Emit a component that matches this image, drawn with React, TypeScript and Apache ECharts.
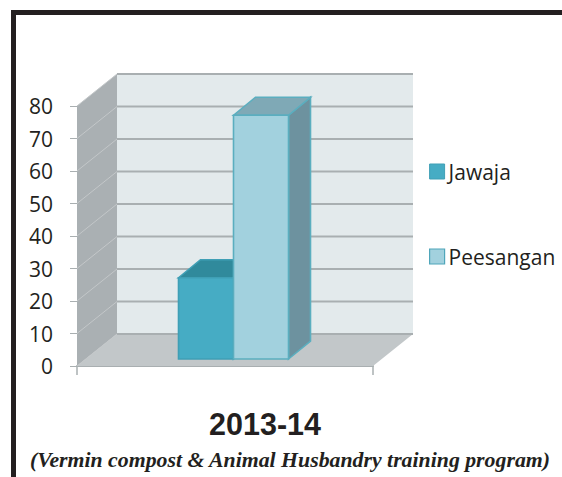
import React, { useEffect, useRef } from "react";
import * as echarts from "echarts";

const categories = ["2013-14"];
const jawajaValues = [25];
const peesanganValues = [75];
const gridValues = [0, 10, 20, 30, 40, 50, 60, 70, 80];
const chartTitle = "2013-14";
const chartSubtitle = "(Vermin compost & Animal Husbandry training program)";

const DEPTH_X = 40;
const DEPTH_Y = 32;
const BAR_W = 55;
const BAR_SHIFT_X = 8.5;
const BAR_SHIFT_Y = 7;
const BAR_DX = 22;
const BAR_DY = 18;

const wallItem = (params: any, api: any) => {
  const cs = params.coordSys;
  const x0 = cs.x, x1 = cs.x + cs.width, yTop = cs.y, yBot = cs.y + cs.height;
  const poly = (points: number[][], fill: string) => ({
    type: "polygon", shape: { points }, style: { fill }, silent: true,
  });
  return {
    type: "group",
    children: [
      poly([[x0 + DEPTH_X, yTop - DEPTH_Y], [x1 + DEPTH_X, yTop - DEPTH_Y], [x1 + DEPTH_X, yBot - DEPTH_Y], [x0 + DEPTH_X, yBot - DEPTH_Y]], "#e3eaec"),
      poly([[x0, yTop], [x0 + DEPTH_X, yTop - DEPTH_Y], [x0 + DEPTH_X, yBot - DEPTH_Y], [x0, yBot]], "#aab0b3"),
      poly([[x0, yBot], [x0 + DEPTH_X, yBot - DEPTH_Y], [x1 + DEPTH_X, yBot - DEPTH_Y], [x1, yBot]], "#c2c7c9"),
    ],
  };
};

const gridLineItem = (params: any, api: any) => {
  const cs = params.coordSys;
  const y = api.coord([0, api.value(0)])[1];
  const x0 = cs.x, x1 = cs.x + cs.width;
  const back = y - DEPTH_Y;
  return {
    type: "group",
    children: [
      { type: "line", shape: { x1: x0, y1: y, x2: x0 + DEPTH_X, y2: back }, style: { stroke: "#c3c7c9", lineWidth: 1 } },
      { type: "line", shape: { x1: x0 + DEPTH_X, y1: back, x2: x1 + DEPTH_X, y2: back }, style: { stroke: "#a9afb1", lineWidth: 2 } },
    ],
  };
};

const barItem = (offset: number, c: { front: string; top: string; side: string; edge: string }) => (params: any, api: any) => {
  const bottom = api.coord([0, 0]);
  const top = api.coord([0, api.value(1)]);
  const xL = bottom[0] + BAR_SHIFT_X + offset * BAR_W;
  const xR = xL + BAR_W;
  const yB = bottom[1] - BAR_SHIFT_Y;
  const yT = top[1] - BAR_SHIFT_Y;
  const stroke = { stroke: c.edge, lineWidth: 1.6 };
  return {
    type: "group",
    children: [
      { type: "polygon", shape: { points: [[xR, yB], [xR + BAR_DX, yB - BAR_DY], [xR + BAR_DX, yT - BAR_DY], [xR, yT]] }, style: { fill: c.side, ...stroke } },
      { type: "polygon", shape: { points: [[xL, yT], [xL + BAR_DX, yT - BAR_DY], [xR + BAR_DX, yT - BAR_DY], [xR, yT]] }, style: { fill: c.top, ...stroke } },
      { type: "rect", shape: { x: xL, y: yT, width: BAR_W, height: yB - yT }, style: { fill: c.front, ...stroke } },
    ],
  };
};

export default function App() {
  const ref = useRef<HTMLDivElement>(null);
  useEffect(() => {
    document.body.style.margin = "0";
    const chart = echarts.init(ref.current!, undefined, { renderer: "svg" });
    chart.setOption({
      animation: false,
      backgroundColor: "#ffffff",
      grid: { left: 77, right: 189, top: 106, bottom: 111 },
      xAxis: {
        type: "category",
        data: categories,
        axisLine: { lineStyle: { color: "#a9afb1", width: 2 } },
        axisTick: { show: true, length: 9, lineStyle: { color: "#a9afb1", width: 1.5 } },
        axisLabel: { show: false },
        splitLine: { show: false },
      },
      yAxis: {
        type: "value",
        min: 0,
        max: 80,
        interval: 10,
        axisLine: { show: true, lineStyle: { color: "#a9afb1", width: 1 } },
        axisTick: { show: true, length: 7, lineStyle: { color: "#a9afb1", width: 1 } },
        axisLabel: { color: "#231f20", fontFamily: "Open Sans", fontSize: 21, margin: 24 },
        splitLine: { show: false },
      },
      legend: {
        orient: "vertical",
        left: 424,
        top: 156,
        itemWidth: 15,
        itemHeight: 15,
        itemGap: 64,
        icon: "rect",
        selectedMode: false,
        textStyle: { color: "#231f20", fontFamily: "Open Sans", fontSize: 21, padding: [0, 0, 0, -1] },
        data: [
          { name: "Jawaja", itemStyle: { color: "#46acc4", borderColor: "#3f9fb5", borderWidth: 1 } },
          { name: "Peesangan", itemStyle: { color: "#a2d1de", borderColor: "#4fa6ba", borderWidth: 1.2 } },
        ],
      },
      title: [
        { text: chartTitle, left: 260, top: 403, textAlign: "center", textStyle: { color: "#231f20", fontFamily: "Liberation Sans", fontWeight: "bold", fontSize: 30.5 } },
        { text: chartSubtitle, left: 285, top: 444, textAlign: "center", textStyle: { color: "#231f20", fontFamily: "Liberation Serif", fontWeight: "bold", fontStyle: "italic", fontSize: 21.8 } },
      ],
      graphic: [
        { type: "rect", shape: { x: 11, y: 10, width: 551, height: 5 }, style: { fill: "#231f20" } },
        { type: "rect", shape: { x: 11, y: 10, width: 5, height: 467 }, style: { fill: "#231f20" } },
      ],
      series: [
        { type: "custom", name: "walls", coordinateSystem: "cartesian2d", clip: false, silent: true, z: 1, data: [[0]], renderItem: wallItem },
        { type: "custom", name: "gridlines", coordinateSystem: "cartesian2d", clip: false, silent: true, z: 2, encode: { x: null, y: 0 }, data: gridValues.map((v) => [v]), renderItem: gridLineItem },
        {
          type: "custom", name: "Jawaja", coordinateSystem: "cartesian2d", clip: false, silent: true, z: 3,
          itemStyle: { color: "#46acc4" }, encode: { x: 0, y: 1 },
          data: jawajaValues.map((v, i) => [i, v]),
          renderItem: barItem(-1, { front: "#46acc4", top: "#308a9c", side: "#2f7f90", edge: "#3f9fb5" }),
        },
        {
          type: "custom", name: "Peesangan", coordinateSystem: "cartesian2d", clip: false, silent: true, z: 4,
          itemStyle: { color: "#a2d1de" }, encode: { x: 0, y: 1 },
          data: peesanganValues.map((v, i) => [i, v]),
          renderItem: barItem(0, { front: "#a2d1de", top: "#7fa9b6", side: "#6d929f", edge: "#5baebf" }),
        },
      ],
    });
    return () => chart.dispose();
  }, []);
  return <div ref={ref} style={{ position: "fixed", left: 0, top: 0, width: 562, height: 477 }} />;
}
